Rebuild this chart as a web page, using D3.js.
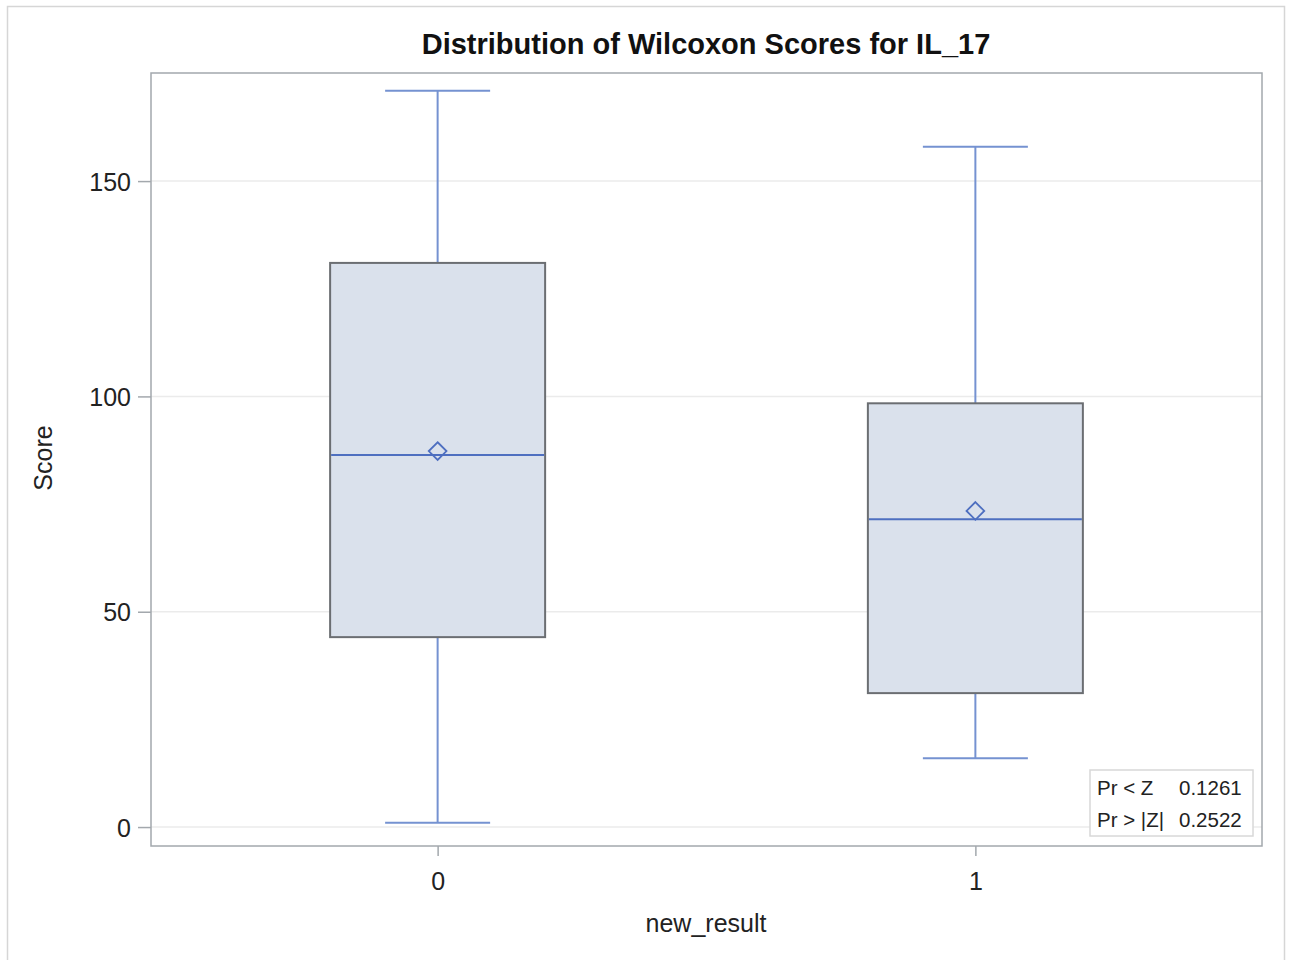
<!DOCTYPE html>
<html>
<head>
<meta charset="utf-8">
<script src="https://cdn.jsdelivr.net/npm/d3@7"></script>
<style>
  body { margin: 0; background: #fff; }
  text { font-family: "Liberation Sans", Arial, sans-serif; fill: #222; }
</style>
</head>
<body>
<div id="chart"></div>
<script>
// Data
const groups = ["0", "1"];
const mins = [1, 16];
const q1s = [44.1, 31.1];
const medians = [86.4, 71.5];
const q3s = [131, 98.4];
const maxs = [171, 158];
const means = [87.3, 73.4];
const yTicks = [0, 50, 100, 150];
const statLabels = ["Pr < Z", "Pr > |Z|"];
const statValues = ["0.1261", "0.2522"];

const width = 1289, height = 960;
const margin = {top: 73, right: 27, bottom: 114, left: 151};
const plotW = width - margin.left - margin.right,
      plotH = height - margin.top - margin.bottom;

const svg = d3.select("#chart").append("svg")
    .attr("width", width)
    .attr("height", height);

// outer border
svg.append("rect")
   .attr("x", 7.5).attr("y", 6.5)
   .attr("width", 1277).attr("height", 970)
   .attr("fill", "none").attr("stroke", "#d6d6d6").attr("stroke-width", 1.5);

// title
svg.append("text")
   .attr("x", 706).attr("y", 54)
   .attr("text-anchor", "middle")
   .style("font-size", "29px").style("font-weight", "bold")
   .style("fill", "#111")
   .text("Distribution of Wilcoxon Scores for IL_17");

const g = svg.append("g").attr("transform", `translate(${margin.left},${margin.top})`);

const x = d3.scalePoint().domain(groups).range([0, plotW]).padding(0.533);
const y = d3.scaleLinear().domain([-4.4, 175.1]).range([plotH, 0]);

// gridlines
g.selectAll(".grid").data(yTicks).enter().append("line")
   .attr("x1", 0).attr("x2", plotW)
   .attr("y1", d => y(d)).attr("y2", d => y(d))
   .attr("stroke", "#ebebeb").attr("stroke-width", 1.5);

// y axis
const yAxis = g.append("g").call(d3.axisLeft(y).tickValues(yTicks).tickSize(13).tickPadding(7));
yAxis.select(".domain").remove();
yAxis.selectAll("line").attr("stroke", "#a3a8ad").attr("stroke-width", 1.5);
yAxis.selectAll("text").style("font-size", "25px").attr("dy", "0.36em");

// x axis
const xAxis = g.append("g").attr("transform", `translate(0,${plotH})`)
   .call(d3.axisBottom(x).tickSize(10).tickPadding(16));
xAxis.select(".domain").remove();
xAxis.selectAll("line").attr("stroke", "#a3a8ad").attr("stroke-width", 1.5);
xAxis.selectAll("text").style("font-size", "25px");

// frame
g.append("rect").attr("x", 0).attr("y", 0).attr("width", plotW).attr("height", plotH)
   .attr("fill", "none").attr("stroke", "#a3a8ad").attr("stroke-width", 1.5);

// axis labels
svg.append("text")
   .attr("transform", `translate(52,458) rotate(-90)`)
   .attr("text-anchor", "middle")
   .style("font-size", "25px")
   .text("Score");
svg.append("text")
   .attr("x", 706).attr("y", 932)
   .attr("text-anchor", "middle")
   .style("font-size", "25px")
   .text("new_result");

// boxes
const boxW = 215, capW = 105;
const whiskerColor = "#7592d1", medColor = "#4e6fc0";

groups.forEach((grp, i) => {
  const cx = x(grp);
  // whiskers
  g.append("line").attr("x1", cx).attr("x2", cx)
     .attr("y1", y(q3s[i])).attr("y2", y(maxs[i]))
     .attr("stroke", whiskerColor).attr("stroke-width", 2);
  g.append("line").attr("x1", cx).attr("x2", cx)
     .attr("y1", y(q1s[i])).attr("y2", y(mins[i]))
     .attr("stroke", whiskerColor).attr("stroke-width", 2);
  [maxs[i], mins[i]].forEach(v => {
    g.append("line").attr("x1", cx - capW / 2).attr("x2", cx + capW / 2)
       .attr("y1", y(v)).attr("y2", y(v))
       .attr("stroke", whiskerColor).attr("stroke-width", 2);
  });
  // box
  g.append("rect")
     .attr("x", cx - boxW / 2).attr("y", y(q3s[i]))
     .attr("width", boxW).attr("height", y(q1s[i]) - y(q3s[i]))
     .attr("fill", "#dae1ec").attr("stroke", "#6b6e72").attr("stroke-width", 2);
  // median
  g.append("line").attr("x1", cx - boxW / 2 + 1).attr("x2", cx + boxW / 2 - 1)
     .attr("y1", y(medians[i])).attr("y2", y(medians[i]))
     .attr("stroke", medColor).attr("stroke-width", 2);
  // mean diamond
  g.append("path")
     .attr("d", d3.symbol().type(d3.symbolDiamond2).size(200)())
     .attr("transform", `translate(${cx},${y(means[i])})`)
     .attr("fill", "none").attr("stroke", medColor).attr("stroke-width", 1.8);
});

// stats inset
const inset = g.append("g").attr("transform", `translate(${1090 - margin.left},${770 - margin.top})`);
inset.append("rect").attr("width", 163).attr("height", 66)
   .attr("fill", "#fff").attr("stroke", "#d8d8d8").attr("stroke-width", 1.5);
statLabels.forEach((lab, i) => {
  inset.append("text").attr("x", 7).attr("y", 25 + i * 32)
     .style("font-size", "20.5px").text(lab);
  inset.append("text").attr("x", 89).attr("y", 25 + i * 32)
     .style("font-size", "20.5px").text(statValues[i]);
});
</script>
</body>
</html>
